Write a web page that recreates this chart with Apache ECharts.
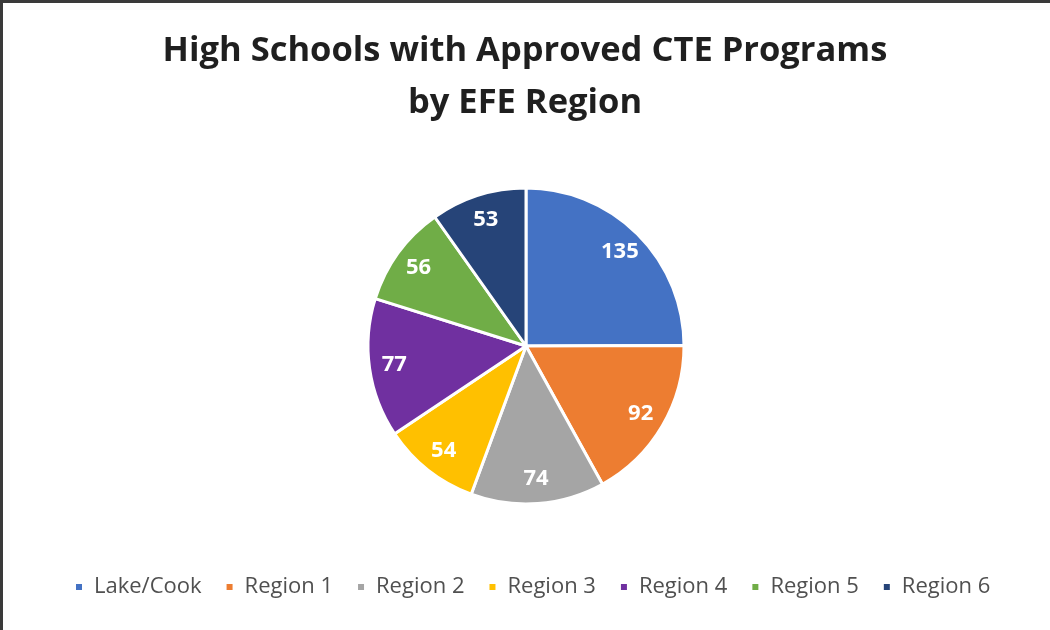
<!DOCTYPE html>
<html>
<head>
<meta charset="utf-8">
<script src="https://cdn.jsdelivr.net/npm/echarts@6/dist/echarts.min.js"></script>
<style>
html,body{margin:0;padding:0;background:#fff;}
#wrap{position:absolute;left:0;top:0;width:1050px;height:630px;box-sizing:border-box;border-top:3px solid #3a3a3a;border-left:3px solid #3a3a3a;}
#chart{position:absolute;left:0;top:0;width:1050px;height:630px;}
</style>
</head>
<body>
<div id="wrap"></div>
<div id="chart"></div>
<script>
const titleLines = ['High Schools with Approved CTE Programs', 'by EFE Region'];
const categories = ['Lake/Cook', 'Region 1', 'Region 2', 'Region 3', 'Region 4', 'Region 5', 'Region 6'];
const values = [135, 92, 74, 54, 77, 56, 53];
const colors = ['#4472C4', '#ED7D31', '#A5A5A5', '#FFC000', '#7030A0', '#70AD47', '#264478'];

const data = categories.map((c, i) => ({ name: c, value: values[i] }));
const font = '"Open Sans", "Liberation Sans", sans-serif';

const chart = echarts.init(document.getElementById('chart'), null, { renderer: 'canvas' });
chart.setOption({
  animation: false,
  color: colors,
  title: {
    text: titleLines.join('\n'),
    left: 'center',
    top: 20,
    textStyle: { fontFamily: font, fontSize: 34.5, fontWeight: 'bold', color: '#1f1f1f', lineHeight: 52 }
  },
  legend: {
    top: 573,
    left: 74,
    padding: 0,
    itemWidth: 8,
    itemHeight: 8,
    itemGap: 23,
    icon: 'rect',
    textStyle: { fontFamily: font, fontSize: 22, color: '#505050', padding: [0, 0, 0, 6], lineHeight: 28 },
    data: categories
  },
  series: [
    {
      type: 'pie',
      center: [526, 346],
      radius: [0, 158],
      startAngle: 90,
      clockwise: true,
      data: data,
      itemStyle: { borderColor: '#fff', borderWidth: 3 },
      label: { show: false },
      labelLine: { show: false },
      emphasis: { disabled: true }
    },
    {
      type: 'pie',
      center: [526, 346],
      radius: [102, 158],
      startAngle: 90,
      clockwise: true,
      silent: true,
      data: data,
      itemStyle: { color: 'rgba(0,0,0,0)', borderWidth: 0 },
      label: {
        show: true,
        position: 'inside',
        formatter: '{c}',
        color: '#fff',
        fontFamily: font,
        fontSize: 22,
        fontWeight: 'bold'
      },
      labelLine: { show: false },
      emphasis: { disabled: true }
    }
  ]
});
</script>
</body>
</html>
